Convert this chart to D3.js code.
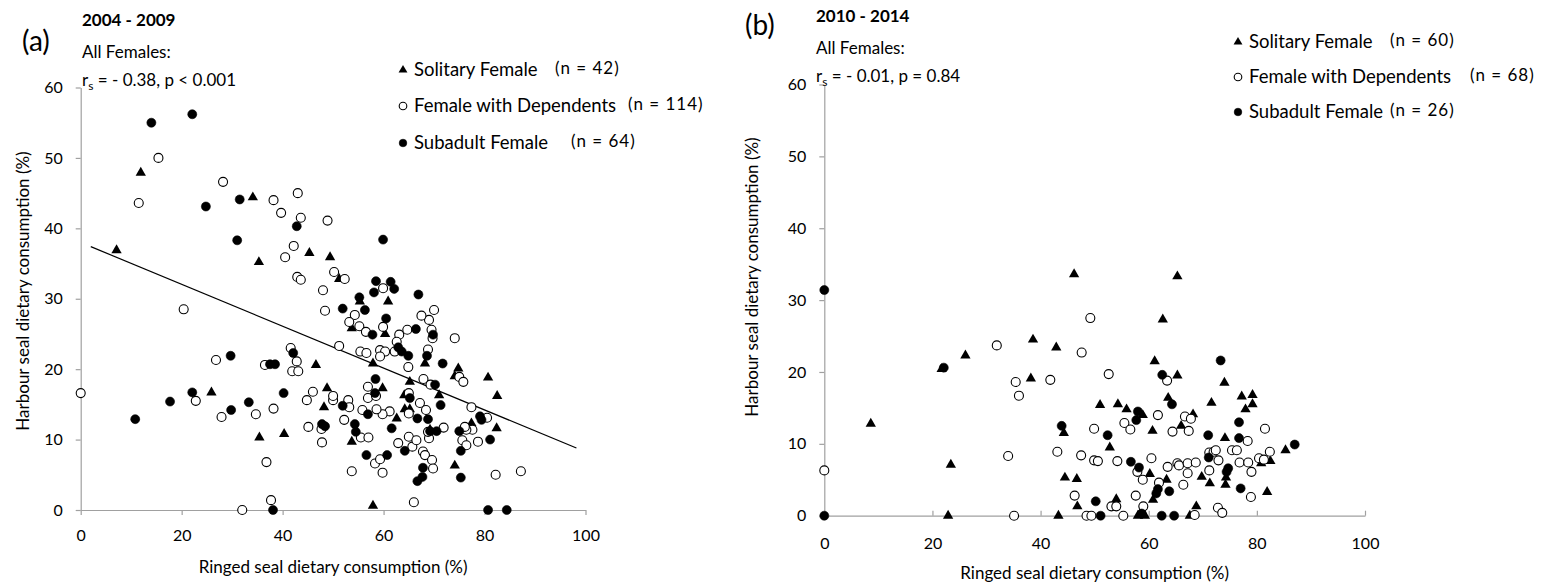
<!DOCTYPE html>
<html>
<head>
<meta charset="utf-8">
<script src="https://cdn.jsdelivr.net/npm/d3@7"></script>
<style>
  body { margin: 0; background: #fff; }
  svg { display: block; }
  text { font-family: Lato, "Open Sans", sans-serif; fill: #000; }
</style>
</head>
<body>
<svg id="chart" width="1547" height="586"></svg>
<script>
// ---- (a) 2004 - 2009 : [ringed %, harbour %] ----
const aSolitary = [
  [7.1,36.9],[11.9,47.9],[34.1,44.4],[35.3,35.2],[45.3,36.5],[49.4,35.9],[51.2,32.8],[55.3,29.6],
  [60.9,29.6],[53.7,25.8],[60.3,25.0],[68.2,20.8],[57.9,20.8],[46.6,20.6],[74.8,20.1],[74.1,19.0],
  [80.7,18.8],[65.2,18.2],[82.5,16.2],[82.4,11.6],[77.4,12.3],[74.1,6.3],[57.9,0.6],[59.8,17.3],
  [62.6,13.0],[48.2,14.6],[48.8,17.3],[53.7,9.7],[64.1,16.3],[64.2,14.3],[65.2,14.3],[71.0,16.3],
  [25.9,16.7],[35.4,10.3],[40.3,10.8],[69.2,11.4]
];
const aDependents = [
  [0,16.6],[11.5,43.6],[15.4,50.0],[20.4,28.5],[28.2,46.6],[38.2,44.0],[43.0,45.0],[39.7,42.2],
  [43.6,41.5],[48.9,41.1],[42.2,37.5],[40.5,35.9],[50.2,33.8],[42.9,33.1],[43.6,32.7],[48.0,31.2],
  [48.4,28.3],[52.3,32.8],[59.9,31.5],[70.0,28.4],[69.0,27.0],[67.5,27.6],[69.5,25.6],[54.3,27.7],
  [53.2,26.7],[55.2,26.1],[56.5,25.3],[59.9,26.0],[63.1,24.9],[64.7,25.6],[74.1,24.4],[62.6,23.9],
  [69.7,24.4],[51.2,23.3],[55.4,22.5],[56.6,22.3],[59.3,22.7],[60.3,22.5],[59.3,21.8],[62.2,22.5],
  [68.8,22.8],[64.9,20.3],[41.6,23.0],[42.8,21.1],[41.9,19.7],[43.1,19.7],[75.0,18.9],[75.8,18.2],
  [67.9,18.6],[77.4,14.6],[80.5,13.1],[78.7,9.7],[77.6,11.4],[76.4,11.4],[75.6,9.9],[76.4,9.2],
  [82.2,5.0],[87.2,5.5],[66.0,1.1],[53.7,5.5],[59.8,5.3],[58.3,6.6],[59.3,7.2],[62.9,9.5],
  [65.7,9.0],[65.0,10.4],[66.5,9.9],[67.8,8.3],[68.2,7.8],[69.6,7.1],[69.8,5.9],[69.0,10.2],
  [68.8,11.1],[71.9,11.7],[65.0,13.7],[67.2,15.2],[68.4,14.2],[61.2,14.0],[59.8,13.6],[58.6,14.3],
  [55.8,14.2],[56.9,15.9],[56.9,17.5],[58.5,16.2],[53.0,15.6],[53.2,14.6],[50.0,15.6],[44.8,15.6],
  [46.0,16.8],[52.2,12.8],[45.1,11.8],[47.7,11.5],[47.8,9.6],[55.5,10.3],[57.0,10.3],[65.0,16.6],
  [69.3,17.8],[22.8,15.5],[26.8,21.3],[27.9,13.2],[34.7,13.6],[36.8,6.8],[38.2,14.4],[37.7,1.4],
  [32.0,0],[36.5,20.6],[50.0,16.2],[76.1,11.8]
];
const aSubadult = [
  [14.0,55.0],[22.1,56.2],[24.8,43.1],[31.5,44.1],[42.8,40.3],[31.0,38.3],[51.9,28.6],[59.9,38.4],
  [58.5,32.5],[61.4,32.4],[62.1,31.4],[58.1,30.9],[66.9,30.6],[69.8,24.9],[55.2,30.2],[56.3,28.4],
  [60.5,27.2],[57.8,24.9],[66.4,25.7],[62.9,23.1],[63.6,22.5],[64.9,21.9],[68.6,21.9],[71.7,20.8],
  [38.5,20.7],[37.5,20.7],[42.1,22.3],[58.4,18.6],[70.2,17.8],[79.1,13.3],[79.4,12.8],[81.1,10.0],
  [75.0,11.2],[75.3,8.4],[75.3,4.6],[80.7,0],[84.4,0],[56.6,7.8],[60.7,7.8],[64.2,8.4],
  [67.8,6.0],[67.7,4.7],[66.7,4.1],[69.2,11.2],[70.5,11.2],[68.8,12.9],[66.7,13.0],[61.6,11.6],
  [56.9,13.6],[58.3,16.6],[51.9,14.8],[47.8,12.2],[48.4,11.9],[54.3,12.2],[54.5,11.1],[65.2,15.9],
  [71.3,14.9],[10.8,12.9],[17.7,15.4],[22.1,16.7],[29.7,21.9],[29.8,14.2],[33.3,15.3],[40.2,16.6],
  [38.1,0]
];
// fitted line, all females 2004 - 2009
const aTrend = [[2.0,37.4],[98.2,8.8]];

// ---- (b) 2010 - 2014 ----
const bSolitary = [
  [8.6,12.8],[21.7,20.4],[26.1,22.3],[23.4,7.1],[22.9,0],[38.6,24.5],[42.9,23.4],[38.2,19.1],
  [44.3,11.5],[44.5,5.3],[43.3,0],[46.2,33.6],[65.3,33.3],[62.6,27.3],[61.1,21.5],[65.3,19.5],
  [74.0,18.5],[63.6,16.4],[77.2,16.6],[79.2,16.8],[79.2,15.5],[77.9,14.8],[71.6,15.7],[51.0,15.4],
  [54.3,15.5],[55.9,14.8],[58.9,14.0],[68.2,14.1],[66.0,12.5],[60.7,11.8],[74.1,10.8],[52.8,9.5],
  [85.3,9.1],[80.8,7.3],[82.5,7.6],[74.3,5.3],[74.2,4.3],[69.8,5.4],[71.3,4.5],[81.9,3.3],
  [60.2,5.8],[60.8,2.2],[63.3,5.0],[46.7,5.1],[46.8,1.3],[54.0,2.3],[58.0,0],[59.3,0],
  [58.7,0.6],[67.6,0],[68.8,1.3]
];
const bDependents = [
  [0,6.3],[31.9,23.7],[35.4,18.6],[36.0,16.7],[41.8,18.9],[34.0,8.3],[43.1,8.9],[35.1,0],
  [49.2,27.5],[47.6,22.7],[52.6,19.7],[63.4,18.8],[55.5,12.9],[56.6,12.0],[61.7,14.0],[66.7,13.8],
  [67.8,13.5],[64.4,11.7],[67.4,11.8],[49.9,12.1],[81.5,12.1],[78.3,10.4],[47.5,8.4],[49.9,7.7],
  [50.6,7.6],[54.2,7.6],[57.9,6.1],[60.5,8.0],[63.5,6.8],[65.3,7.3],[65.6,7.0],[67.2,7.3],
  [67.2,5.9],[68.7,7.4],[71.2,8.8],[72.0,8.9],[72.4,9.1],[72.9,7.7],[71.2,6.3],[75.4,9.1],
  [76.3,9.1],[76.8,7.4],[78.4,7.4],[80.4,8.0],[81.3,7.8],[82.4,8.9],[79.0,6.1],[78.9,2.6],
  [58.9,5.0],[61.9,4.6],[66.4,4.3],[57.6,2.8],[46.3,2.8],[53.1,1.3],[54.0,1.3],[48.5,0],
  [49.4,0],[55.3,0],[59.0,1.3],[68.5,0.1],[72.8,1.1],[73.6,0.4]
];
const bSubadult = [
  [0,31.4],[0,0],[22.1,20.6],[43.9,12.5],[73.3,21.6],[62.5,19.6],[64.3,15.5],[58.0,14.5],
  [57.7,13.3],[52.4,11.2],[76.7,13.0],[71.0,11.2],[76.7,10.8],[87.0,9.9],[56.7,7.5],[58.2,6.7],
  [71.1,8.1],[74.7,6.6],[74.4,6.1],[77.0,3.8],[61.4,3.1],[61.7,3.7],[63.8,3.4],[50.2,2.0],
  [51.1,0],[62.4,0],[64.7,0],[58.7,0.3]
];

const xTicks = [0, 20, 40, 60, 80, 100];
const yTicks = [0, 10, 20, 30, 40, 50, 60];
const groupNames = ["Solitary Female", "Female with Dependents", "Subadult Female"];
const aCounts = ["(n = 42)", "(n = 114)", "(n = 64)"];
const bCounts = ["(n = 60)", "(n = 68)", "(n = 26)"];
const xTitle = "Ringed seal dietary consumption (%)";
const yTitle = "Harbour seal dietary consumption (%)";

const svg = d3.select("#chart");
const axisColor = "#a0a0a0";
const triPath = d3.symbol(d3.symbolTriangle, 46)();
const triLegend = d3.symbol(d3.symbolTriangle, 34)();

function marker(g, kind, x, y, legend) {
  if (kind === 0) {
    g.append("path").attr("d", legend ? triLegend : triPath)
      .attr("transform", `translate(${x},${y})`).attr("fill", "#000");
  } else {
    g.append("circle").attr("cx", x).attr("cy", y).attr("r", legend ? 3.8 : 4.5)
      .attr("fill", kind === 1 ? "#fff" : "#000")
      .attr("stroke", "#000").attr("stroke-width", kind === 1 ? 1.1 : 0.6);
  }
}

function panel(cfg) {
  const g = svg.append("g");
  const x = d3.scaleLinear().domain([0, 100]).range([cfg.x0, cfg.x1]);
  const y = d3.scaleLinear().domain([0, 60]).range([cfg.y0, cfg.y1]);

  // axes
  const xa = g.append("g").attr("transform", `translate(0,${cfg.y0})`)
    .call(d3.axisBottom(x).tickValues(xTicks).tickSize(cfg.xTickSize).tickSizeOuter(0)
      .tickPadding(cfg.xPad));
  const ya = g.append("g").attr("transform", `translate(${cfg.x0},0)`)
    .call(d3.axisLeft(y).tickValues(yTicks).tickSize(5).tickSizeOuter(0).tickPadding(13));
  [xa, ya].forEach(a => {
    a.select(".domain").attr("stroke", axisColor).attr("stroke-width", 1.2);
    a.selectAll(".tick line").attr("stroke", axisColor).attr("stroke-width", 1.2);
    a.selectAll(".tick text").attr("font-family", "Lato, sans-serif").attr("font-size", 16).attr("fill", "#000");
  });

  // axis titles
  g.append("text").attr("x", (cfg.x0 + cfg.x1) / 2).attr("y", cfg.xTitleY)
    .attr("text-anchor", "middle").attr("font-size", 17).text(xTitle);
  g.append("text").attr("transform", `translate(${cfg.yTitleX},${cfg.yTitleY}) rotate(-90)`)
    .attr("text-anchor", "middle").attr("font-size", 17).text(yTitle);

  // trend line
  if (cfg.trend) {
    g.append("path").datum(cfg.trend)
      .attr("d", d3.line().x(d => x(d[0])).y(d => y(d[1])))
      .attr("fill", "none").attr("stroke", "#000").attr("stroke-width", 1.2);
  }

  // points
  const pts = g.append("g");
  cfg.series.forEach((s, k) => s.forEach(d => marker(pts, k, x(d[0]), y(d[1]), false)));

  // headings
  g.append("text").attr("x", cfg.tagX).attr("y", cfg.tagY).attr("font-size", 28).text(cfg.tag);
  g.append("text").attr("x", cfg.headX).attr("y", cfg.headY).attr("font-size", 17)
    .attr("font-weight", "bold").text(cfg.period);
  g.append("text").attr("x", cfg.headX).attr("y", cfg.headY + 32).attr("font-size", 17).text("All Females:");
  const st = g.append("text").attr("x", cfg.headX).attr("y", cfg.headY + 60).attr("font-size", 17);
  st.append("tspan").text("r");
  st.append("tspan").attr("dy", 4).attr("font-size", 12).text("s");
  st.append("tspan").attr("dy", -4).text(cfg.stat);

  // legend
  const lg = g.append("g");
  cfg.legendY.forEach((ly, k) => {
    marker(lg, k, cfg.legendX, ly, true);
    lg.append("text").attr("x", cfg.legendX + 11).attr("y", ly + 6).attr("font-size", 18.5).text(groupNames[k]);
    lg.append("text").attr("x", cfg.countX[k]).attr("y", ly + 4).attr("font-size", 17)
      .attr("letter-spacing", 1).text(cfg.counts[k]);
  });
}

panel({
  x0: 80.7, x1: 585.5, y0: 510, y1: 87.5, xTickSize: 5, xPad: 15,
  xTitleY: 573, yTitleX: 29, yTitleY: 291,
  trend: aTrend, series: [aSolitary, aDependents, aSubadult],
  tag: "(a)", tagX: 22, tagY: 51, period: "2004 - 2009", headX: 82, headY: 26,
  stat: " = - 0.38, p < 0.001",
  legendX: 403, legendY: [70, 106, 143], countX: [555, 628, 571], counts: aCounts
});

panel({
  x0: 824.3, x1: 1365, y0: 515.7, y1: 84.5, xTickSize: -5, xPad: 22,
  xTitleY: 579, yTitleX: 758, yTitleY: 277,
  trend: null, series: [bSolitary, bDependents, bSubadult],
  tag: "(b)", tagX: 745, tagY: 35, period: "2010 - 2014", headX: 816, headY: 22,
  stat: " = - 0.01, p = 0.84",
  legendX: 1238, legendY: [42, 77, 112], countX: [1390, 1470, 1390], counts: bCounts
});
</script>
</body>
</html>
